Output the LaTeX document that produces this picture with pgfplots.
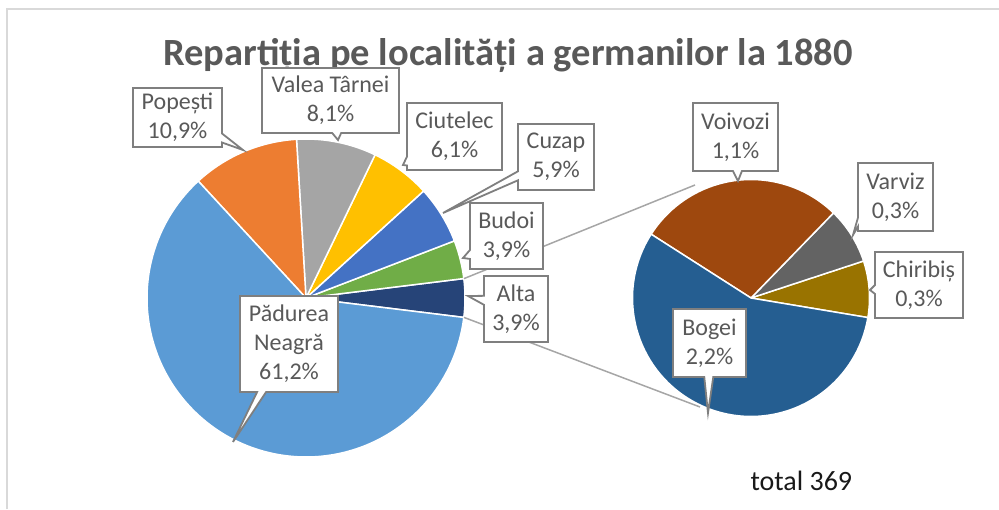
\documentclass[border=0pt]{standalone}
\usepackage{pgfplots}
\pgfplotsset{compat=1.18}
\usepackage{fontspec}
\setmainfont{Carlito}
\usetikzlibrary{shapes.callouts}
\definecolor{cPad}{HTML}{5B9BD5}
\definecolor{cPop}{HTML}{ED7D31}
\definecolor{cVal}{HTML}{A5A5A5}
\definecolor{cCiu}{HTML}{FFC000}
\definecolor{cCuz}{HTML}{4472C4}
\definecolor{cBud}{HTML}{70AD47}
\definecolor{cAlt}{HTML}{264478}
\definecolor{cBog}{HTML}{255E91}
\definecolor{cVoi}{HTML}{9E480E}
\definecolor{cVar}{HTML}{636363}
\definecolor{cChi}{HTML}{997300}
\definecolor{cTxt}{HTML}{595959}
\definecolor{cBox}{HTML}{7F7F7F}
\definecolor{cLine}{HTML}{A6A6A6}
\definecolor{cFrame}{HTML}{D9D9D9}
\tikzset{lbl/.style={rectangle callout,draw=cBox,line width=1.8pt,fill=white,text=cTxt,
    font=\fontsize{24}{29}\selectfont,align=center,inner sep=0pt,callout pointer width=9pt}}
\begin{document}
\begin{tikzpicture}
\begin{axis}[x=1pt,y=1pt,xmin=0,xmax=999,ymin=0,ymax=509,hide axis,clip=false]
% frame
\draw[cFrame,line width=2pt] (axis cs:7,0) -- (axis cs:7,500) -- (axis cs:999,500);
% main pie (percent values), counter-clockwise from "Alta"
\xdef\angA{-7.02}
\foreach \v/\c in {3.9/cAlt,3.9/cBud,5.9/cCuz,6.1/cCiu,8.1/cVal,10.9/cPop,61.2/cPad}{
  \pgfmathsetmacro\angB{\angA+3.6*\v}
  \edef\temp{\noexpand\fill[\c,draw=white,line width=1.5pt] (axis cs:306,211) -- ++(\angA:159pt) arc[start angle=\angA,end angle=\angB,radius=159pt] -- cycle;}
  \temp
  \xdef\angA{\angB}
}
% secondary pie (split of Alta = 3.9)
\xdef\angA{-9.5}
\foreach \v/\c in {0.3/cChi,0.3/cVar,1.1/cVoi,2.2/cBog}{
  \pgfmathsetmacro\angB{\angA+360/3.9*\v}
  \edef\temp{\noexpand\fill[\c,draw=white,line width=1.5pt] (axis cs:751,211) -- ++(\angA:118.5pt) arc[start angle=\angA,end angle=\angB,radius=118.5pt] -- cycle;}
  \temp
  \xdef\angA{\angB}
}
% connector lines
\draw[cLine,line width=1.5pt] (axis cs:464,230.4) -- (axis cs:695,324);
\draw[cLine,line width=1.5pt] (axis cs:464,191.6) -- (axis cs:700,102);
% title
\node[anchor=base,text=cTxt,font=\fontsize{38.5}{46}\selectfont\bfseries] at (axis cs:508,443) {Repartiția pe localități a germanilor la 1880};
% labels
\node[lbl,minimum width=89pt,minimum height=59pt,callout absolute pointer={(axis cs:243,359)}] at (axis cs:177.5,391.5) {Popești\\10,9\%};
\node[lbl,minimum width=137pt,minimum height=65pt,callout absolute pointer={(axis cs:338,369)}] at (axis cs:330.5,408.5) {Valea Târnei\\8,1\%};
\node[lbl,minimum width=95pt,minimum height=67pt,callout absolute pointer={(axis cs:403,344)}] at (axis cs:454.5,372.5) {Ciutelec\\6,1\%};
\node[lbl,minimum width=76pt,minimum height=66pt,callout absolute pointer={(axis cs:443,296)}] at (axis cs:556,352) {Cuzap\\5,9\%};
\node[lbl,minimum width=73pt,minimum height=66pt,callout absolute pointer={(axis cs:463,251)}] at (axis cs:506.5,273) {Budoi\\3,9\%};
\node[lbl,minimum width=64pt,minimum height=66pt,callout absolute pointer={(axis cs:468,213)}] at (axis cs:516,200) {Alta\\3,9\%};
\node[lbl,minimum width=98pt,minimum height=96pt,callout absolute pointer={(axis cs:233,67)}] at (axis cs:289,165) {Pădurea\\Neagră\\61,2\%};
\node[lbl,minimum width=85pt,minimum height=68pt,callout absolute pointer={(axis cs:738,328)}] at (axis cs:735.5,372) {Voivozi\\1,1\%};
\node[lbl,minimum width=75pt,minimum height=68pt,callout absolute pointer={(axis cs:853,274)}] at (axis cs:895.5,312) {Varviz\\0,3\%};
\node[lbl,minimum width=88pt,minimum height=66pt,callout absolute pointer={(axis cs:870,219)}] at (axis cs:919,224) {Chiribiș\\0,3\%};
\node[lbl,minimum width=73pt,minimum height=68pt,callout absolute pointer={(axis cs:708,96)}] at (axis cs:709.5,166) {Bogei\\2,2\%};
% total
\node[anchor=base west,text=black!90,font=\fontsize{28}{34}\selectfont] at (axis cs:747,19) {total 369};
\end{axis}
\pgfresetboundingbox
\useasboundingbox (current axis.south west) rectangle (current axis.north east);
\end{tikzpicture}
\end{document}
